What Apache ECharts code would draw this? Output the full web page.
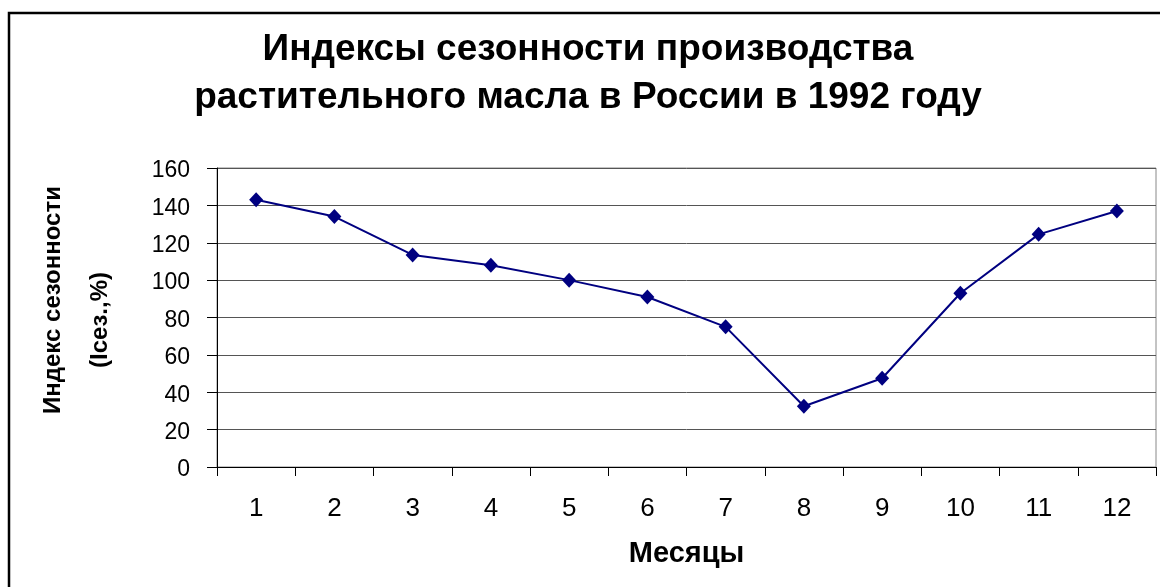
<!DOCTYPE html>
<html>
<head>
<meta charset="utf-8">
<script src="https://cdn.jsdelivr.net/npm/echarts@6/dist/echarts.min.js"></script>
<style>html,body{margin:0;padding:0;background:#fff}#c{width:1160px;height:587px}</style>
</head>
<body>
<div id="c"></div>
<script>
const months = ['1','2','3','4','5','6','7','8','9','10','11','12'];
const seasonIndex = [143, 134, 113.5, 108, 100, 91, 75, 32.5, 47.5, 93, 124.5, 137];
const yTicks = { min: 0, max: 160, interval: 20 };
const titleText = 'Индексы сезонности производства\nрастительного масла в России в 1992 году';
const yNameLine1 = 'Индекс сезонности';
const yNameLine2 = '(Iсез.,%)';
const xName = 'Месяцы';

const FONT = '"Liberation Sans", Arial, sans-serif';
const chart = echarts.init(document.getElementById('c'), null, { renderer: 'canvas' });
chart.setOption({
  animation: false,
  backgroundColor: '#fff',
  title: {
    text: titleText,
    left: 588, textAlign: 'center', top: 26, padding: 0,
    textStyle: { fontFamily: FONT, fontWeight: 'bold', fontSize: 37, lineHeight: 48, color: '#000' }
  },
  graphic: [
    {
      type: 'rect', shape: { x: 9, y: 13, width: 1170, height: 600 },
      style: { fill: 'none', stroke: '#000', lineWidth: 2.5 }, silent: true, z: 100
    },
    {
      type: 'text', x: 53, y: 300, rotation: Math.PI / 2,
      style: { text: yNameLine1, fontFamily: FONT, fontWeight: 'bold', fontSize: 24, fill: '#000', align: 'center', verticalAlign: 'middle' }
    },
    {
      type: 'text', x: 100, y: 320, rotation: Math.PI / 2,
      style: { text: yNameLine2, fontFamily: FONT, fontWeight: 'bold', fontSize: 24, fill: '#000', align: 'center', verticalAlign: 'middle' }
    }
  ],
  grid: { left: 217, right: 4, top: 168, bottom: 120, show: true, borderColor: '#888', borderWidth: 1, backgroundColor: 'transparent' },
  xAxis: {
    type: 'category', data: months, boundaryGap: true,
    name: xName, nameLocation: 'middle', nameGap: 72,
    nameTextStyle: { fontFamily: FONT, fontWeight: 'bold', fontSize: 29, color: '#000' },
    axisLine: { lineStyle: { color: '#000', width: 1 } },
    axisTick: { show: true, length: 9, lineStyle: { color: '#000' } },
    axisLabel: { margin: 29, fontFamily: FONT, fontSize: 26, color: '#000' },
    splitLine: { show: false }
  },
  yAxis: {
    type: 'value', min: yTicks.min, max: yTicks.max, interval: yTicks.interval,
    axisLine: { show: true, lineStyle: { color: '#000', width: 1 } },
    axisTick: { show: true, length: 10, lineStyle: { color: '#000' } },
    axisLabel: { margin: 27, fontFamily: FONT, fontSize: 23, color: '#000', verticalAlign: 'top', lineHeight: 30, padding: [-12, 0, 0, 0] },
    splitLine: { show: true, lineStyle: { color: '#555', width: 1 } }
  },
  series: [{
    type: 'line', data: seasonIndex,
    symbol: 'diamond', symbolSize: [14, 15],
    lineStyle: { color: '#000080', width: 2 },
    itemStyle: { color: '#000080' }
  }]
});
</script>
</body>
</html>
